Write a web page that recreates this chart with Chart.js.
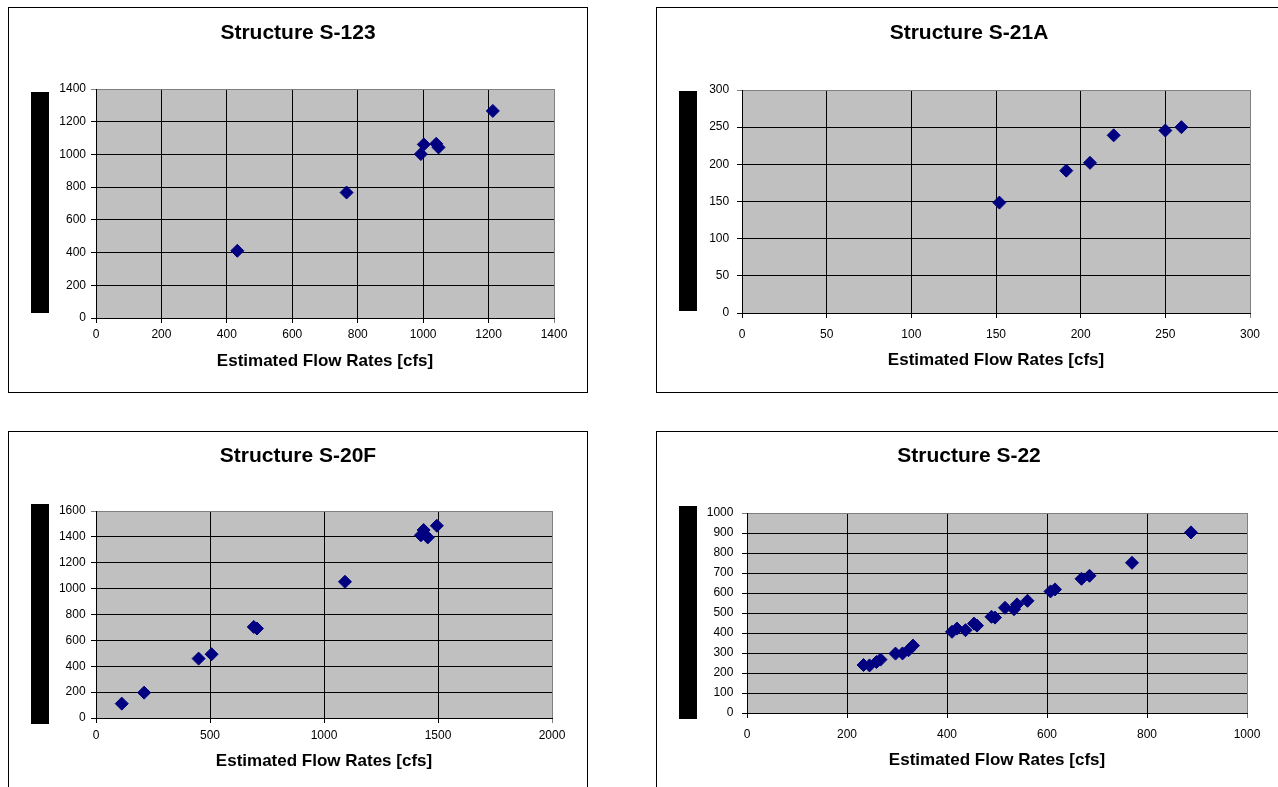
<!DOCTYPE html>
<html>
<head>
<meta charset="utf-8">
<title>Estimated flow rates</title>
<script src="https://cdn.jsdelivr.net/npm/chart.js@4/dist/chart.umd.min.js"></script>
<style>
    body { margin: 0; background: #fff; width: 1278px; height: 787px; overflow: hidden; position: relative; }
    .frame { position: absolute; border: 1px solid #000; box-sizing: border-box; background: #fff; }
    .frame canvas { display: block; }
</style>
</head>
<body>
<div class="frame" style="left:8px;top:7px;width:580px;height:386px"><canvas id="c123" width="578" height="384"></canvas></div>
<div class="frame" style="left:656px;top:7px;width:626px;height:386px"><canvas id="c21a" width="624" height="384"></canvas></div>
<div class="frame" style="left:8px;top:431px;width:580px;height:386px"><canvas id="c20f" width="578" height="384"></canvas></div>
<div class="frame" style="left:656px;top:431px;width:626px;height:386px"><canvas id="c22" width="624" height="384"></canvas></div>

<script>
const FONT = "'Liberation Sans', Arial, sans-serif";
const xTitle = "Estimated Flow Rates [cfs]";

/* Structure S-123 */
const s123Flow = [432, 766, 993, 1002, 1040, 1047, 1213];
const s123Meas = [411, 767, 1002, 1061, 1065, 1043, 1266];

/* Structure S-21A */
const s21aFlow = [152, 191.5, 205.5, 219.5, 250, 259.5];
const s21aMeas = [148.5, 191.5, 202, 239, 245.5, 250];

/* Structure S-20F */
const s20fFlow = [113, 211, 450, 507, 692, 706, 1092, 1425, 1437, 1455, 1495];
const s20fMeas = [111, 196, 459, 493, 704, 692, 1053, 1412, 1453, 1396, 1486];

/* Structure S-22 */
const s22Flow = [233, 245, 259, 267, 297, 311, 323, 332, 410, 420, 437, 454, 460, 489, 496,
                 516, 534, 540, 561, 607, 616, 669, 685, 770, 888];
const s22Meas = [240, 238, 255, 267, 297, 298, 314, 337, 406, 422, 414, 447, 437, 481, 477,
                 526, 519, 543, 561, 608, 618, 671, 686, 751, 903];

/* fondo gris del área de trazado + barra negra del título Y */
const plotBack = {
    id: "plotBack",
    beforeDraw(chart, args, opts) {
        const { ctx, chartArea: a } = chart;
        ctx.save();
        ctx.fillStyle = "#c0c0c0";
        ctx.fillRect(a.left, a.top, a.right - a.left, a.bottom - a.top);
        if (opts.bar) {
            const b = opts.bar;
            ctx.fillStyle = "#000";
            ctx.fillRect(b.x, b.y, b.w, b.h);
        }
        ctx.restore();
    }
};

function crearGrafico(id, cfg) {
    const puntos = cfg.xs.map((x, i) => ({ x: x, y: cfg.ys[i] }));
    const tickFont = { family: FONT, size: 12 };
    const sinComa = v => String(v);

    new Chart(document.getElementById(id), {
        type: "scatter",
        data: {
            datasets: [{
                data: puntos,
                pointStyle: "rectRot",
                pointRadius: 6.5,
                pointBackgroundColor: "#000080",
                pointBorderColor: "#000080",
                pointBorderWidth: 1
            }]
        },
        plugins: [plotBack],
        options: {
            responsive: false,
            animation: false,
            devicePixelRatio: 1,
            layout: { padding: 0 },
            plugins: {
                legend: { display: false },
                tooltip: { enabled: false },
                plotBack: { bar: cfg.bar },
                title: {
                    display: true,
                    text: cfg.title,
                    color: "#000",
                    font: { family: FONT, size: 21, weight: "bold", lineHeight: 1.2 },
                    padding: { top: cfg.titleTop, bottom: cfg.titleBottom }
                }
            },
            scales: {
                x: {
                    type: "linear",
                    min: 0, max: cfg.xMax,
                    afterFit: s => { s.height = cfg.xH; },
                    ticks: { stepSize: cfg.xStep, color: "#000", font: tickFont, padding: cfg.xPad,
                             maxRotation: 0, autoSkip: false, callback: sinComa },
                    grid: {
                        color: c => (c.tick && c.tick.value === cfg.xMax) ? "#808080" : "#000",
                        lineWidth: 1,
                        tickLength: 5
                    },
                    border: { color: "#000", width: 1 },
                    title: {
                        display: true,
                        text: xTitle,
                        color: "#000",
                        font: { family: FONT, size: 17, weight: "bold", lineHeight: 1.2 },
                        padding: { top: 0, bottom: cfg.xTitlePad }
                    }
                },
                y: {
                    type: "linear",
                    min: 0, max: cfg.yMax,
                    afterFit: s => { s.width = cfg.yW; },
                    ticks: { stepSize: cfg.yStep, color: "#000", font: tickFont, padding: cfg.yPad,
                             autoSkip: false, callback: sinComa },
                    grid: {
                        color: c => (c.tick && c.tick.value === cfg.yMax) ? "#808080" : "#000",
                        lineWidth: 1,
                        tickLength: 5
                    },
                    border: { color: "#000", width: 1 }
                },
                // eje vacío a la derecha: reserva el margen y deja el título centrado en el marco
                margenDer: {
                    type: "linear",
                    position: "right",
                    afterFit: s => { s.width = cfg.right; },
                    ticks: { display: false },
                    grid: { display: false },
                    border: { display: false }
                }
            }
        }
    });
}

document.addEventListener("DOMContentLoaded", () => {
    crearGrafico("c123", {
        title: "Structure S-123", xs: s123Flow, ys: s123Meas,
        xMax: 1400, xStep: 200, yMax: 1400, yStep: 200,
        yW: 87, right: 33, xH: 74, titleTop: 12.7, titleBottom: 43.1,
        xPad: 4.4, yPad: 5, xTitlePad: 20.2,
        bar: { x: 22, y: 84, w: 18, h: 221 }
    });
    crearGrafico("c21a", {
        title: "Structure S-21A", xs: s21aFlow, ys: s21aMeas,
        xMax: 300, xStep: 50, yMax: 300, yStep: 50,
        yW: 85, right: 31, xH: 79, titleTop: 12.4, titleBottom: 44.4,
        xPad: 9.4, yPad: 7.8, xTitlePad: 21.9,
        bar: { x: 22, y: 83, w: 18, h: 220 }
    });
    crearGrafico("c20f", {
        title: "Structure S-20F", xs: s20fFlow, ys: s20fMeas,
        xMax: 2000, xStep: 500, yMax: 1600, yStep: 200,
        yW: 87, right: 35, xH: 98, titleTop: 12.1, titleBottom: 41.7,
        xPad: 5.1, yPad: 5.4, xTitlePad: 44.2,
        bar: { x: 22, y: 72, w: 18, h: 220 }
    });
    crearGrafico("c22", {
        title: "Structure S-22", xs: s22Flow, ys: s22Meas,
        xMax: 1000, xStep: 200, yMax: 1000, yStep: 100,
        yW: 90, right: 34, xH: 103, titleTop: 12.1, titleBottom: 43.7,
        xPad: 9.1, yPad: 8.6, xTitlePad: 45.9,
        bar: { x: 22, y: 74, w: 18, h: 213 }
    });
});
</script>
</body>
</html>
